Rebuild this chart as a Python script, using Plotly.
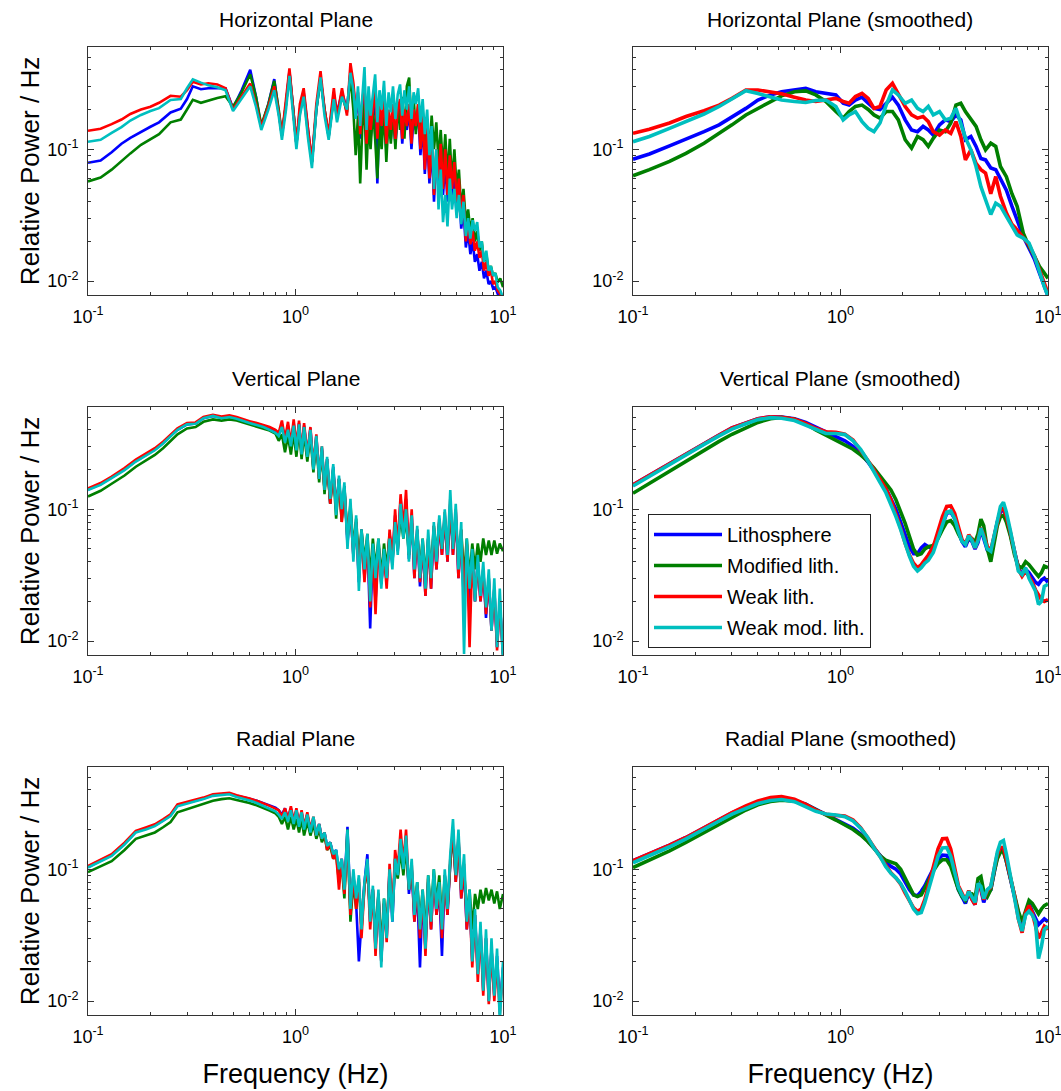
import plotly.graph_objects as go

# ---------------- series / styling ----------------
SERIES = ["Lithosphere", "Modified lith.", "Weak lith.", "Weak mod. lith."]
COLORS = ["#0000ff", "#007f00", "#ff0000", "#00bfbf"]

# ---------------- Horizontal plane (raw) ----------------
horiz_raw_freq = [0.1, 0.115, 0.13, 0.145, 0.16, 0.18, 0.2, 0.22, 0.25, 0.28, 0.3, 0.32, 0.35, 0.38, 0.42, 0.46,
                  0.5, 0.55, 0.605, 0.645, 0.684, 0.74, 0.79, 0.83, 0.86, 0.9, 0.935, 0.975, 1.01, 1.05, 1.095,
                  1.15, 1.2, 1.26, 1.32, 1.38, 1.445, 1.53, 1.585, 1.675, 1.77, 1.84,
                  1.9, 1.95, 2.0, 2.05, 2.1, 2.15, 2.2, 2.25, 2.3, 2.36, 2.42, 2.48, 2.54, 2.6, 2.67, 2.74, 2.81,
                  2.88, 2.95, 3.03, 3.11, 3.19, 3.27, 3.35, 3.44, 3.53, 3.62, 3.71, 3.8, 3.9, 4.0, 4.1, 4.2, 4.31,
                  4.42, 4.53, 4.65, 4.77, 4.89, 5.01, 5.14, 5.27, 5.4, 5.54, 5.68, 5.83, 5.98, 6.13, 6.29, 6.45,
                  6.62, 6.79, 6.96, 7.14, 7.32, 7.51, 7.7, 7.9, 8.1, 8.31, 8.52, 8.74, 8.96, 9.19, 9.43, 9.7, 10.0]
horiz_raw_litho = [0.079, 0.082, 0.095, 0.11, 0.122, 0.136, 0.148, 0.16, 0.19, 0.203, 0.24, 0.3, 0.285, 0.29, 0.29,
                   0.29, 0.205, 0.28, 0.4, 0.25, 0.147, 0.22, 0.34, 0.2, 0.127, 0.22, 0.39, 0.2, 0.11, 0.2, 0.27,
                   0.14, 0.08, 0.2, 0.35, 0.2, 0.125, 0.26, 0.19, 0.27, 0.2, 0.38,
                   0.3, 0.18, 0.25, 0.12, 0.22, 0.28, 0.1, 0.2, 0.12, 0.18, 0.26, 0.055, 0.2, 0.13, 0.23, 0.1, 0.19,
                   0.12, 0.2, 0.11, 0.19, 0.22, 0.11, 0.19, 0.14, 0.2, 0.1, 0.18, 0.14, 0.2, 0.09, 0.16, 0.065, 0.13,
                   0.055, 0.11, 0.04, 0.09, 0.05, 0.09, 0.045, 0.08, 0.04, 0.07, 0.04, 0.06, 0.032, 0.05, 0.025,
                   0.035, 0.018, 0.024, 0.016, 0.02, 0.014, 0.016, 0.012, 0.014, 0.0105, 0.012, 0.0095, 0.01,
                   0.0088, 0.009, 0.008, 0.0078, 0.007]
horiz_raw_mod = [0.057, 0.061, 0.07, 0.082, 0.093, 0.108, 0.12, 0.13, 0.16, 0.168, 0.2, 0.237, 0.225, 0.235, 0.245,
                 0.252, 0.21, 0.27, 0.37, 0.25, 0.152, 0.22, 0.33, 0.2, 0.13, 0.22, 0.38, 0.2, 0.11, 0.19, 0.26,
                 0.13, 0.08, 0.2, 0.34, 0.2, 0.125, 0.25, 0.18, 0.26, 0.19, 0.36,
                 0.2, 0.09, 0.18, 0.055, 0.15, 0.22, 0.07, 0.17, 0.1, 0.2, 0.12, 0.06, 0.16, 0.1, 0.2, 0.08, 0.18,
                 0.11, 0.2, 0.1, 0.22, 0.14, 0.25, 0.12, 0.3, 0.35, 0.15, 0.25, 0.13, 0.22, 0.12, 0.2, 0.1, 0.17,
                 0.09, 0.18, 0.1, 0.16, 0.08, 0.14, 0.07, 0.13, 0.06, 0.12, 0.055, 0.1, 0.05, 0.07, 0.035, 0.05,
                 0.028, 0.035, 0.024, 0.03, 0.02, 0.024, 0.017, 0.02, 0.014, 0.016, 0.012, 0.013, 0.011, 0.0115,
                 0.0098, 0.0105, 0.009]
horiz_raw_weak = [0.138, 0.143, 0.155, 0.168, 0.185, 0.2, 0.21, 0.225, 0.254, 0.25, 0.28, 0.325, 0.31, 0.316, 0.31,
                  0.29, 0.2, 0.25, 0.315, 0.22, 0.148, 0.21, 0.3, 0.19, 0.127, 0.24, 0.41, 0.2, 0.11, 0.22, 0.29,
                  0.14, 0.082, 0.22, 0.39, 0.2, 0.13, 0.29, 0.175, 0.29, 0.18, 0.45,
                  0.32, 0.2, 0.27, 0.13, 0.24, 0.3, 0.11, 0.22, 0.14, 0.2, 0.28, 0.12, 0.22, 0.15, 0.25, 0.11, 0.2,
                  0.14, 0.22, 0.12, 0.2, 0.24, 0.12, 0.2, 0.15, 0.22, 0.11, 0.2, 0.15, 0.22, 0.1, 0.18, 0.07, 0.15,
                  0.06, 0.12, 0.045, 0.1, 0.06, 0.11, 0.05, 0.1, 0.045, 0.09, 0.05, 0.08, 0.04, 0.06, 0.03, 0.045,
                  0.02, 0.028, 0.019, 0.024, 0.017, 0.02, 0.015, 0.017, 0.012, 0.014, 0.011, 0.012, 0.0095, 0.01,
                  0.0085, 0.008, 0.0072]
horiz_raw_weakmod = [0.114, 0.118, 0.133, 0.147, 0.165, 0.182, 0.195, 0.205, 0.236, 0.24, 0.29, 0.339, 0.32, 0.305,
                     0.295, 0.28, 0.195, 0.24, 0.3, 0.21, 0.14, 0.2, 0.28, 0.18, 0.118, 0.2, 0.36, 0.18, 0.1, 0.18,
                     0.25, 0.12, 0.072, 0.2, 0.35, 0.18, 0.118, 0.24, 0.16, 0.25, 0.2, 0.38,
                     0.28, 0.17, 0.3, 0.15, 0.26, 0.42, 0.14, 0.3, 0.18, 0.25, 0.37, 0.16, 0.28, 0.2, 0.33, 0.15,
                     0.27, 0.19, 0.3, 0.17, 0.26, 0.31, 0.18, 0.28, 0.2, 0.3, 0.17, 0.27, 0.22, 0.29, 0.16, 0.24,
                     0.13, 0.2, 0.09, 0.15, 0.05, 0.1, 0.035, 0.07, 0.028, 0.045, 0.026, 0.06, 0.035, 0.05, 0.03,
                     0.045, 0.027, 0.04, 0.022, 0.03, 0.021, 0.029, 0.024, 0.028, 0.018, 0.02, 0.014, 0.017, 0.012,
                     0.013, 0.011, 0.0115, 0.009, 0.0085, 0.0075]

# ---------------- Horizontal plane (smoothed) ----------------
horiz_smooth_freq = [0.1, 0.12, 0.15, 0.18, 0.22, 0.26, 0.3, 0.35, 0.4, 0.46, 0.52, 0.6, 0.68, 0.76, 0.85, 0.95,
                     1.03, 1.1, 1.18, 1.27, 1.36, 1.45, 1.55, 1.66, 1.78, 1.9, 2.05, 2.2, 2.35, 2.5, 2.65, 2.8,
                     3.0, 3.2, 3.4, 3.6, 3.8, 4.0, 4.25, 4.5, 4.75, 5.0, 5.3, 5.6, 5.9, 6.3, 6.7, 7.1, 7.6, 8.1,
                     8.6, 9.1, 9.6, 10.0]
horiz_smooth_litho = [0.084, 0.092, 0.106, 0.119, 0.136, 0.153, 0.175, 0.204, 0.236, 0.258, 0.273, 0.281, 0.29,
                      0.273, 0.265, 0.258, 0.223, 0.216, 0.236, 0.248, 0.223, 0.204, 0.2, 0.223, 0.248, 0.216,
                      0.167, 0.14, 0.136, 0.149, 0.14, 0.128, 0.153, 0.167, 0.162, 0.182, 0.167, 0.118, 0.125,
                      0.105, 0.085, 0.083, 0.072, 0.07, 0.059, 0.049, 0.037, 0.029, 0.0218, 0.0178, 0.0147,
                      0.0115, 0.0091, 0.0077]
horiz_smooth_mod = [0.063, 0.07, 0.081, 0.093, 0.111, 0.131, 0.153, 0.182, 0.204, 0.23, 0.254, 0.273, 0.277, 0.258,
                    0.23, 0.193, 0.172, 0.193, 0.211, 0.216, 0.2, 0.182, 0.172, 0.193, 0.193, 0.167, 0.118, 0.102,
                    0.125, 0.118, 0.105, 0.121, 0.14, 0.136, 0.158, 0.216, 0.223, 0.193, 0.167, 0.149, 0.118,
                    0.099, 0.111, 0.105, 0.074, 0.062, 0.046, 0.037, 0.0231, 0.0183, 0.0155, 0.0129, 0.0115,
                    0.0105]
horiz_smooth_weak = [0.132, 0.142, 0.158, 0.177, 0.196, 0.216, 0.243, 0.281, 0.281, 0.273, 0.263, 0.248, 0.236,
                     0.23, 0.236, 0.243, 0.23, 0.223, 0.251, 0.265, 0.243, 0.204, 0.211, 0.281, 0.316, 0.265,
                     0.211, 0.182, 0.172, 0.177, 0.162, 0.136, 0.128, 0.14, 0.132, 0.162, 0.125, 0.083, 0.099,
                     0.078, 0.07, 0.066, 0.046, 0.062, 0.044, 0.033, 0.027, 0.0245, 0.0212, 0.0188, 0.0155,
                     0.0122, 0.0097, 0.0081]
horiz_smooth_weakmod = [0.114, 0.125, 0.144, 0.162, 0.185, 0.211, 0.239, 0.278, 0.265, 0.248, 0.236, 0.23, 0.226,
                        0.234, 0.236, 0.211, 0.167, 0.182, 0.193, 0.162, 0.144, 0.136, 0.158, 0.216, 0.281, 0.258,
                        0.223, 0.236, 0.204, 0.193, 0.211, 0.182, 0.193, 0.167, 0.172, 0.204, 0.158, 0.122,
                        0.099, 0.074, 0.052, 0.041, 0.032, 0.039, 0.037, 0.031, 0.026, 0.0224, 0.0212, 0.0194,
                        0.0155, 0.0115, 0.0091, 0.0077]

# ---------------- Vertical / radial planes (raw) share a frequency grid ----------------
raw_freq = [0.1, 0.115, 0.13, 0.15, 0.17, 0.19, 0.21, 0.23, 0.25, 0.27, 0.3, 0.33, 0.36, 0.4, 0.44, 0.48, 0.52,
            0.56, 0.6, 0.65, 0.7, 0.75, 0.8,
            0.83, 0.86, 0.89, 0.92, 0.95, 0.98, 1.01, 1.04, 1.07, 1.1, 1.14, 1.18, 1.22, 1.26, 1.3, 1.34, 1.38,
            1.42, 1.47, 1.52, 1.57, 1.62, 1.67, 1.72, 1.78, 1.84, 1.9, 1.96, 2.02, 2.08, 2.15, 2.22, 2.29, 2.36,
            2.43, 2.51, 2.59, 2.67, 2.75, 2.84, 2.93, 3.02, 3.11, 3.21, 3.31, 3.41, 3.52, 3.63, 3.74, 3.86,
            3.98, 4.1, 4.23, 4.36, 4.5, 4.64, 4.78, 4.93, 5.08, 5.24, 5.4, 5.57, 5.74, 5.92, 6.1, 6.29, 6.49,
            6.69, 6.9, 7.11, 7.33, 7.56, 7.79, 8.03, 8.28, 8.54, 8.8, 9.08, 9.36, 9.65, 10.0]

vert_raw_litho = [0.141, 0.155, 0.174, 0.2, 0.232, 0.26, 0.284, 0.318, 0.362, 0.4, 0.44, 0.447, 0.49, 0.51, 0.495,
                  0.505, 0.49, 0.475, 0.46, 0.445, 0.43, 0.415, 0.395,
                  0.37, 0.44, 0.33, 0.43, 0.3, 0.45, 0.29, 0.45, 0.26, 0.43, 0.25, 0.41, 0.2, 0.36, 0.17, 0.29,
                  0.14, 0.24, 0.11, 0.21, 0.1, 0.17, 0.085, 0.15, 0.055, 0.1, 0.045, 0.08, 0.028, 0.07, 0.03,
                  0.06, 0.0125, 0.05, 0.02, 0.055, 0.027, 0.045, 0.028, 0.065, 0.038, 0.09, 0.048, 0.12, 0.065,
                  0.12, 0.042, 0.09, 0.03, 0.07, 0.026, 0.055, 0.022, 0.06, 0.025, 0.072, 0.035, 0.08, 0.045,
                  0.09, 0.04, 0.11, 0.045, 0.095, 0.03, 0.065, 0.018, 0.05, 0.015, 0.045, 0.02, 0.04, 0.02,
                  0.035, 0.015, 0.03, 0.012, 0.025, 0.009, 0.02, 0.008]
vert_raw_mod = [0.125, 0.138, 0.156, 0.18, 0.21, 0.235, 0.258, 0.29, 0.33, 0.37, 0.41, 0.42, 0.46, 0.48, 0.47,
                0.48, 0.47, 0.455, 0.44, 0.425, 0.41, 0.395, 0.375,
                0.33, 0.37, 0.27, 0.36, 0.26, 0.38, 0.25, 0.4, 0.24, 0.38, 0.23, 0.36, 0.19, 0.33, 0.16, 0.28,
                0.13, 0.23, 0.11, 0.2, 0.085, 0.17, 0.08, 0.15, 0.06, 0.11, 0.05, 0.085, 0.04, 0.07, 0.04, 0.065,
                0.03, 0.06, 0.035, 0.06, 0.03, 0.055, 0.035, 0.065, 0.04, 0.075, 0.05, 0.09, 0.06, 0.085, 0.045,
                0.08, 0.04, 0.065, 0.035, 0.06, 0.03, 0.06, 0.035, 0.075, 0.045, 0.08, 0.05, 0.085, 0.05, 0.09,
                0.055, 0.085, 0.04, 0.07, 0.03, 0.06, 0.03, 0.055, 0.035, 0.055, 0.04, 0.06, 0.045, 0.058,
                0.045, 0.058, 0.046, 0.055, 0.048]
vert_raw_weak = [0.144, 0.158, 0.177, 0.205, 0.238, 0.265, 0.29, 0.325, 0.37, 0.41, 0.45, 0.455, 0.5, 0.52, 0.505,
                 0.515, 0.5, 0.48, 0.465, 0.45, 0.435, 0.42, 0.4,
                 0.38, 0.47, 0.34, 0.46, 0.31, 0.48, 0.3, 0.47, 0.27, 0.45, 0.26, 0.42, 0.21, 0.37, 0.17, 0.3,
                 0.14, 0.24, 0.11, 0.2, 0.1, 0.17, 0.08, 0.14, 0.06, 0.1, 0.045, 0.08, 0.03, 0.065, 0.028, 0.06,
                 0.018, 0.05, 0.016, 0.055, 0.028, 0.045, 0.025, 0.07, 0.04, 0.1, 0.05, 0.13, 0.07, 0.14, 0.045,
                 0.1, 0.03, 0.07, 0.028, 0.055, 0.022, 0.06, 0.025, 0.075, 0.035, 0.085, 0.045, 0.095, 0.04,
                 0.12, 0.045, 0.1, 0.03, 0.07, 0.02, 0.055, 0.009, 0.045, 0.02, 0.04, 0.02, 0.035, 0.016, 0.03,
                 0.012, 0.025, 0.0085, 0.02, 0.0075]
vert_raw_weakmod = [0.14, 0.153, 0.172, 0.198, 0.23, 0.257, 0.28, 0.315, 0.36, 0.4, 0.44, 0.445, 0.49, 0.51, 0.49,
                    0.5, 0.485, 0.465, 0.45, 0.435, 0.42, 0.4, 0.38,
                    0.36, 0.42, 0.32, 0.4, 0.3, 0.43, 0.28, 0.44, 0.26, 0.42, 0.25, 0.4, 0.2, 0.36, 0.17, 0.3,
                    0.14, 0.25, 0.12, 0.22, 0.09, 0.18, 0.1, 0.16, 0.05, 0.12, 0.04, 0.09, 0.024, 0.07, 0.035,
                    0.065, 0.02, 0.055, 0.03, 0.06, 0.025, 0.05, 0.03, 0.06, 0.035, 0.08, 0.045, 0.11, 0.06, 0.1,
                    0.04, 0.09, 0.035, 0.075, 0.03, 0.06, 0.025, 0.07, 0.03, 0.08, 0.04, 0.09, 0.05, 0.1, 0.045,
                    0.14, 0.05, 0.11, 0.035, 0.08, 0.008, 0.06, 0.025, 0.05, 0.02, 0.045, 0.022, 0.04, 0.018,
                    0.035, 0.012, 0.03, 0.009, 0.025, 0.007]

radial_raw_litho = [0.104, 0.117, 0.128, 0.156, 0.192, 0.204, 0.215, 0.235, 0.257, 0.305, 0.318, 0.33, 0.344,
                    0.365, 0.37, 0.375, 0.36, 0.352, 0.342, 0.33, 0.318, 0.305, 0.293,
                    0.28, 0.26, 0.29, 0.24, 0.29, 0.23, 0.28, 0.22, 0.27, 0.21, 0.26, 0.2, 0.24, 0.18, 0.22, 0.17,
                    0.19, 0.15, 0.16, 0.13, 0.14, 0.09, 0.12, 0.07, 0.21, 0.05, 0.09, 0.055, 0.02, 0.04, 0.08,
                    0.13, 0.04, 0.07, 0.025, 0.065, 0.02, 0.055, 0.03, 0.1, 0.04, 0.12, 0.09, 0.17, 0.1, 0.17,
                    0.065, 0.1, 0.04, 0.07, 0.018, 0.065, 0.025, 0.08, 0.035, 0.09, 0.045, 0.07, 0.022, 0.09,
                    0.045, 0.11, 0.2, 0.08, 0.17, 0.06, 0.1, 0.035, 0.06, 0.02, 0.045, 0.016, 0.035, 0.012, 0.03,
                    0.01, 0.025, 0.011, 0.022, 0.009, 0.018]
radial_raw_mod = [0.095, 0.105, 0.115, 0.14, 0.17, 0.18, 0.19, 0.208, 0.228, 0.27, 0.285, 0.298, 0.31, 0.33,
                  0.34, 0.345, 0.335, 0.327, 0.318, 0.305, 0.292, 0.278, 0.265,
                  0.25, 0.22, 0.25, 0.2, 0.25, 0.2, 0.24, 0.19, 0.24, 0.18, 0.23, 0.18, 0.22, 0.17, 0.2, 0.16,
                  0.18, 0.14, 0.15, 0.12, 0.13, 0.08, 0.11, 0.06, 0.2, 0.04, 0.08, 0.05, 0.08, 0.035, 0.075, 0.1,
                  0.045, 0.07, 0.03, 0.065, 0.025, 0.06, 0.035, 0.09, 0.05, 0.11, 0.085, 0.14, 0.09, 0.15, 0.07,
                  0.1, 0.05, 0.08, 0.04, 0.07, 0.03, 0.09, 0.045, 0.1, 0.055, 0.09, 0.04, 0.09, 0.05, 0.11,
                  0.19, 0.085, 0.16, 0.07, 0.1, 0.045, 0.07, 0.035, 0.065, 0.05, 0.07, 0.055, 0.072, 0.058,
                  0.07, 0.055, 0.068, 0.05, 0.065]
radial_raw_weak = [0.106, 0.119, 0.13, 0.159, 0.195, 0.207, 0.219, 0.239, 0.261, 0.31, 0.323, 0.335, 0.349, 0.37,
                   0.376, 0.38, 0.364, 0.355, 0.343, 0.33, 0.316, 0.302, 0.288,
                   0.28, 0.25, 0.29, 0.24, 0.3, 0.23, 0.29, 0.22, 0.28, 0.21, 0.27, 0.2, 0.25, 0.18, 0.22, 0.17,
                   0.19, 0.14, 0.16, 0.12, 0.13, 0.07, 0.12, 0.065, 0.18, 0.045, 0.09, 0.05, 0.085, 0.03, 0.075,
                   0.11, 0.035, 0.07, 0.022, 0.065, 0.02, 0.055, 0.028, 0.11, 0.045, 0.14, 0.1, 0.2, 0.11, 0.2,
                   0.07, 0.11, 0.04, 0.075, 0.03, 0.065, 0.022, 0.085, 0.035, 0.09, 0.045, 0.075, 0.03, 0.09,
                   0.045, 0.12, 0.2, 0.08, 0.18, 0.06, 0.11, 0.035, 0.06, 0.018, 0.045, 0.014, 0.035, 0.011,
                   0.03, 0.0095, 0.025, 0.01, 0.02, 0.008, 0.017]
radial_raw_weakmod = [0.103, 0.115, 0.126, 0.154, 0.19, 0.2, 0.212, 0.232, 0.253, 0.3, 0.314, 0.326, 0.34, 0.36,
                      0.365, 0.37, 0.353, 0.343, 0.332, 0.318, 0.302, 0.288, 0.275,
                      0.26, 0.24, 0.27, 0.23, 0.28, 0.22, 0.28, 0.21, 0.27, 0.2, 0.26, 0.19, 0.25, 0.18, 0.22,
                      0.17, 0.19, 0.15, 0.16, 0.13, 0.14, 0.1, 0.12, 0.07, 0.2, 0.05, 0.1, 0.06, 0.09, 0.035, 0.08,
                      0.12, 0.04, 0.075, 0.025, 0.07, 0.018, 0.06, 0.03, 0.1, 0.04, 0.12, 0.09, 0.17, 0.1, 0.18,
                      0.07, 0.12, 0.045, 0.08, 0.035, 0.07, 0.025, 0.09, 0.04, 0.1, 0.05, 0.08, 0.035, 0.1, 0.05,
                      0.13, 0.24, 0.09, 0.2, 0.07, 0.13, 0.04, 0.07, 0.02, 0.05, 0.016, 0.04, 0.012, 0.035, 0.01,
                      0.03, 0.011, 0.025, 0.007, 0.02]

# ---------------- Vertical / radial planes (smoothed) share a frequency grid ----------------
smooth_freq = [0.1, 0.12, 0.15, 0.18, 0.22, 0.26, 0.3, 0.35, 0.4, 0.46, 0.52, 0.6, 0.68, 0.76, 0.85, 0.95, 1.05,
               1.15, 1.25, 1.35, 1.45, 1.55, 1.65, 1.75, 1.85, 1.95, 2.05, 2.15, 2.25, 2.35, 2.45, 2.55, 2.65,
               2.8, 2.95, 3.1, 3.25, 3.4, 3.55, 3.7, 3.85, 4.0, 4.15, 4.3, 4.45, 4.6, 4.75, 4.9, 5.1, 5.3, 5.5,
               5.7, 5.9, 6.1, 6.3, 6.6, 6.9, 7.2, 7.5, 7.8, 8.1, 8.4, 8.7, 9.0, 9.3, 9.6, 10.0]

vert_smooth_litho = [0.153, 0.181, 0.222, 0.262, 0.315, 0.365, 0.413, 0.453, 0.485, 0.502, 0.5, 0.485, 0.455,
                     0.42, 0.385, 0.355, 0.33, 0.3, 0.265, 0.23, 0.199, 0.17, 0.145, 0.12, 0.1, 0.08, 0.063,
                     0.052, 0.046, 0.046, 0.051, 0.054, 0.052, 0.05, 0.062, 0.078, 0.093, 0.095, 0.085, 0.068,
                     0.057, 0.052, 0.06, 0.057, 0.05, 0.056, 0.07, 0.06, 0.049, 0.046, 0.06, 0.08, 0.095, 0.1,
                     0.087, 0.064, 0.046, 0.036, 0.032, 0.035, 0.033, 0.03, 0.028, 0.027, 0.029, 0.03, 0.028]
vert_smooth_mod = [0.132, 0.157, 0.195, 0.232, 0.28, 0.327, 0.37, 0.415, 0.455, 0.485, 0.497, 0.48, 0.445, 0.4,
                   0.365, 0.335, 0.31, 0.285, 0.258, 0.232, 0.205, 0.18, 0.16, 0.14, 0.118, 0.097, 0.078, 0.062,
                   0.05, 0.045, 0.046, 0.05, 0.052, 0.053, 0.06, 0.07, 0.08, 0.082, 0.075, 0.065, 0.058, 0.055,
                   0.06, 0.06, 0.056, 0.065, 0.084, 0.075, 0.05, 0.04, 0.055, 0.075, 0.088, 0.09, 0.08, 0.062,
                   0.045, 0.037, 0.036, 0.04, 0.038, 0.035, 0.033, 0.031, 0.033, 0.037, 0.036]
vert_smooth_weak = [0.153, 0.181, 0.222, 0.262, 0.315, 0.365, 0.413, 0.453, 0.485, 0.502, 0.497, 0.48, 0.447,
                    0.411, 0.387, 0.383, 0.37, 0.335, 0.281, 0.236, 0.199, 0.167, 0.144, 0.118, 0.093, 0.072,
                    0.055, 0.045, 0.039, 0.036, 0.038, 0.041, 0.045, 0.052, 0.068, 0.088, 0.105, 0.106, 0.093,
                    0.072, 0.059, 0.054, 0.064, 0.059, 0.051, 0.059, 0.072, 0.064, 0.052, 0.049, 0.062, 0.083,
                    0.099, 0.102, 0.088, 0.066, 0.046, 0.035, 0.031, 0.034, 0.031, 0.028, 0.0245, 0.0225, 0.0206,
                    0.02, 0.0206]
vert_smooth_weakmod = [0.15, 0.178, 0.218, 0.258, 0.31, 0.36, 0.405, 0.445, 0.478, 0.495, 0.49, 0.47, 0.435, 0.4,
                       0.375, 0.375, 0.368, 0.33, 0.285, 0.235, 0.195, 0.16, 0.135, 0.11, 0.088, 0.07, 0.055,
                       0.044, 0.037, 0.034, 0.036, 0.039, 0.041, 0.047, 0.06, 0.078, 0.095, 0.097, 0.085, 0.068,
                       0.057, 0.054, 0.063, 0.058, 0.051, 0.058, 0.072, 0.062, 0.05, 0.048, 0.062, 0.085, 0.105,
                       0.113, 0.095, 0.068, 0.046, 0.034, 0.032, 0.036, 0.03, 0.027, 0.024, 0.019, 0.02, 0.026,
                       0.027]

radial_smooth_litho = [0.116, 0.13, 0.152, 0.174, 0.207, 0.239, 0.268, 0.298, 0.322, 0.338, 0.34, 0.332, 0.312,
                       0.285, 0.26, 0.24, 0.222, 0.204, 0.185, 0.165, 0.145, 0.127, 0.113, 0.105, 0.1, 0.092,
                       0.08, 0.07, 0.064, 0.063, 0.068, 0.075, 0.085, 0.1, 0.118, 0.128, 0.127, 0.112, 0.088,
                       0.07, 0.062, 0.055, 0.066, 0.06, 0.054, 0.08, 0.07, 0.056, 0.068, 0.07, 0.095, 0.125, 0.14,
                       0.14, 0.115, 0.083, 0.063, 0.045, 0.035, 0.047, 0.055, 0.048, 0.043, 0.038, 0.04, 0.042,
                       0.04]
radial_smooth_mod = [0.103, 0.117, 0.138, 0.16, 0.19, 0.22, 0.25, 0.281, 0.308, 0.326, 0.333, 0.328, 0.31, 0.285,
                     0.258, 0.236, 0.216, 0.2, 0.182, 0.163, 0.144, 0.127, 0.117, 0.113, 0.11, 0.1, 0.085, 0.072,
                     0.064, 0.062, 0.064, 0.072, 0.082, 0.097, 0.11, 0.118, 0.118, 0.105, 0.085, 0.07, 0.062,
                     0.058, 0.066, 0.065, 0.06, 0.085, 0.088, 0.068, 0.062, 0.07, 0.095, 0.12, 0.135, 0.136,
                     0.115, 0.085, 0.065, 0.048, 0.04, 0.048, 0.058, 0.055, 0.05, 0.046, 0.05, 0.053, 0.055]
radial_smooth_weak = [0.116, 0.13, 0.152, 0.174, 0.207, 0.239, 0.269, 0.302, 0.329, 0.349, 0.355, 0.339, 0.31,
                      0.281, 0.261, 0.256, 0.253, 0.236, 0.207, 0.174, 0.146, 0.126, 0.106, 0.094, 0.086, 0.077,
                      0.066, 0.058, 0.051, 0.048, 0.05, 0.059, 0.075, 0.106, 0.142, 0.17, 0.171, 0.142, 0.1,
                      0.075, 0.066, 0.058, 0.069, 0.059, 0.054, 0.077, 0.071, 0.059, 0.069, 0.073, 0.1, 0.13,
                      0.146, 0.146, 0.119, 0.084, 0.063, 0.042, 0.033, 0.047, 0.053, 0.047, 0.037, 0.03, 0.033,
                      0.037, 0.035]
radial_smooth_weakmod = [0.112, 0.126, 0.148, 0.17, 0.2, 0.232, 0.262, 0.29, 0.315, 0.332, 0.338, 0.325, 0.3,
                         0.275, 0.262, 0.258, 0.25, 0.232, 0.205, 0.175, 0.145, 0.125, 0.105, 0.093, 0.086, 0.078,
                         0.068, 0.058, 0.05, 0.046, 0.047, 0.056, 0.07, 0.098, 0.125, 0.145, 0.146, 0.125, 0.095,
                         0.073, 0.064, 0.058, 0.068, 0.062, 0.056, 0.078, 0.074, 0.06, 0.07, 0.074, 0.1, 0.135,
                         0.16, 0.165, 0.13, 0.088, 0.063, 0.042, 0.034, 0.045, 0.048, 0.045, 0.04, 0.021, 0.026,
                         0.035, 0.037]

PANEL_TITLES = ["Horizontal Plane", "Horizontal Plane (smoothed)", "Vertical Plane",
                "Vertical Plane (smoothed)", "Radial Plane", "Radial Plane (smoothed)"]
X_TICKS = [0.1, 1, 10]
X_TICKTEXT = ["10<sup>-1</sup>", "10<sup>0</sup>", "10<sup>1</sup>"]
Y_TICKS = [0.01, 0.1]
Y_TICKTEXT = ["10<sup>-2</sup>", "10<sup>-1</sup>"]

panels = [
    (horiz_raw_freq, [horiz_raw_litho, horiz_raw_mod, horiz_raw_weak, horiz_raw_weakmod], 2.6),
    (horiz_smooth_freq, [horiz_smooth_litho, horiz_smooth_mod, horiz_smooth_weak, horiz_smooth_weakmod], 3.6),
    (raw_freq, [vert_raw_litho, vert_raw_mod, vert_raw_weak, vert_raw_weakmod], 2.6),
    (smooth_freq, [vert_smooth_litho, vert_smooth_mod, vert_smooth_weak, vert_smooth_weakmod], 3.6),
    (raw_freq, [radial_raw_litho, radial_raw_mod, radial_raw_weak, radial_raw_weakmod], 2.6),
    (smooth_freq, [radial_smooth_litho, radial_smooth_mod, radial_smooth_weak, radial_smooth_weakmod], 3.6),
]
for fr, ss, _ in panels:
    for s in ss:
        assert len(s) == len(fr), (len(s), len(fr))

# ---------------- layout geometry ----------------
W, H = 1061, 1091
ML, MR, MT, MB = 88, 13, 47, 76
x_domains = [[0.0, 0.4323], [0.5677, 1.0]]
y_domains = [[0.7438, 1.0], [0.3719, 0.6281], [0.0, 0.2562]]
AX = "#333333"
FONT = "Liberation Sans, Arial, Helvetica, sans-serif"

fig = go.Figure()
minor_x = [0.2, 0.3, 0.4, 0.5, 0.6, 0.7, 0.8, 0.9, 2, 3, 4, 5, 6, 7, 8, 9]
minor_y = [0.02, 0.03, 0.04, 0.05, 0.06, 0.07, 0.08, 0.09, 0.2, 0.3, 0.4, 0.5]

annotations = []
for i, (fr, ss, lw) in enumerate(panels):
    n = i + 1
    row, col = i // 2, i % 2
    xa = "x" if n == 1 else f"x{n}"
    ya = "y" if n == 1 else f"y{n}"
    for k, s in enumerate(ss):
        fig.add_trace(go.Scatter(
            x=fr, y=s, mode="lines", name=SERIES[k], legendgroup=SERIES[k],
            showlegend=(n == 4), line=dict(color=COLORS[k], width=lw),
            xaxis=xa, yaxis=ya))
    xkey = "xaxis" if n == 1 else f"xaxis{n}"
    ykey = "yaxis" if n == 1 else f"yaxis{n}"
    xd = x_domains[col]
    yd = y_domains[row]
    xaxis = dict(
        domain=xd, anchor=ya, type="log", range=[-1, 1], automargin=False,
        tickvals=X_TICKS, ticktext=X_TICKTEXT, ticks="inside", ticklen=6, tickwidth=1, tickcolor=AX,
        showline=True, linecolor=AX, linewidth=1, mirror="allticks", showgrid=False, zeroline=False,
        tickfont=dict(size=18, color="black", family=FONT), ticklabelstandoff=5, ticklabeloverflow="allow",
        minor=dict(tickvals=minor_x, ticks="inside", ticklen=3, tickcolor=AX, showgrid=False),
    )
    if row == 2:
        xaxis["title"] = dict(text="Frequency (Hz)", font=dict(size=27, color="black", family=FONT), standoff=18)
    yaxis = dict(
        domain=yd, anchor=xa, type="log", range=[-2.105, -0.225], automargin=False,
        tickvals=Y_TICKS, ticktext=Y_TICKTEXT, ticks="inside", ticklen=6, tickwidth=1, tickcolor=AX,
        showline=True, linecolor=AX, linewidth=1, mirror="allticks", showgrid=False, zeroline=False,
        tickfont=dict(size=18, color="black", family=FONT), ticklabelstandoff=5,
        minor=dict(tickvals=minor_y, ticks="inside", ticklen=3, tickcolor=AX, showgrid=False),
    )
    if col == 0:
        yaxis["title"] = dict(text="Relative Power / Hz", font=dict(size=26, color="black", family=FONT),
                              standoff=0)
    fig.layout[xkey] = xaxis
    fig.layout[ykey] = yaxis
    annotations.append(dict(
        text=PANEL_TITLES[i], xref="paper", yref="paper", x=(xd[0] + xd[1]) / 2, y=yd[1],
        xanchor="center", yanchor="middle", yshift=28, showarrow=False,
        font=dict(size=21, color="black", family=FONT)))

fig.update_layout(
    width=W, height=H, margin=dict(l=ML, r=MR, t=MT, b=MB, autoexpand=False),
    paper_bgcolor="white", plot_bgcolor="white",
    font=dict(family=FONT, color="black"),
    annotations=annotations,
    legend=dict(x=(648 - ML) / (W - ML - MR), y=(H - MB - 514) / (H - MT - MB), xanchor="left", yanchor="top",
                bgcolor="white", bordercolor="#222222", borderwidth=1,
                font=dict(size=20, color="black", family=FONT), tracegroupgap=2, itemwidth=68),
)

fig.write_html("out.html", config={"displayModeBar": False},
               post_script="document.body.style.margin='0';document.body.style.overflow='hidden';")
